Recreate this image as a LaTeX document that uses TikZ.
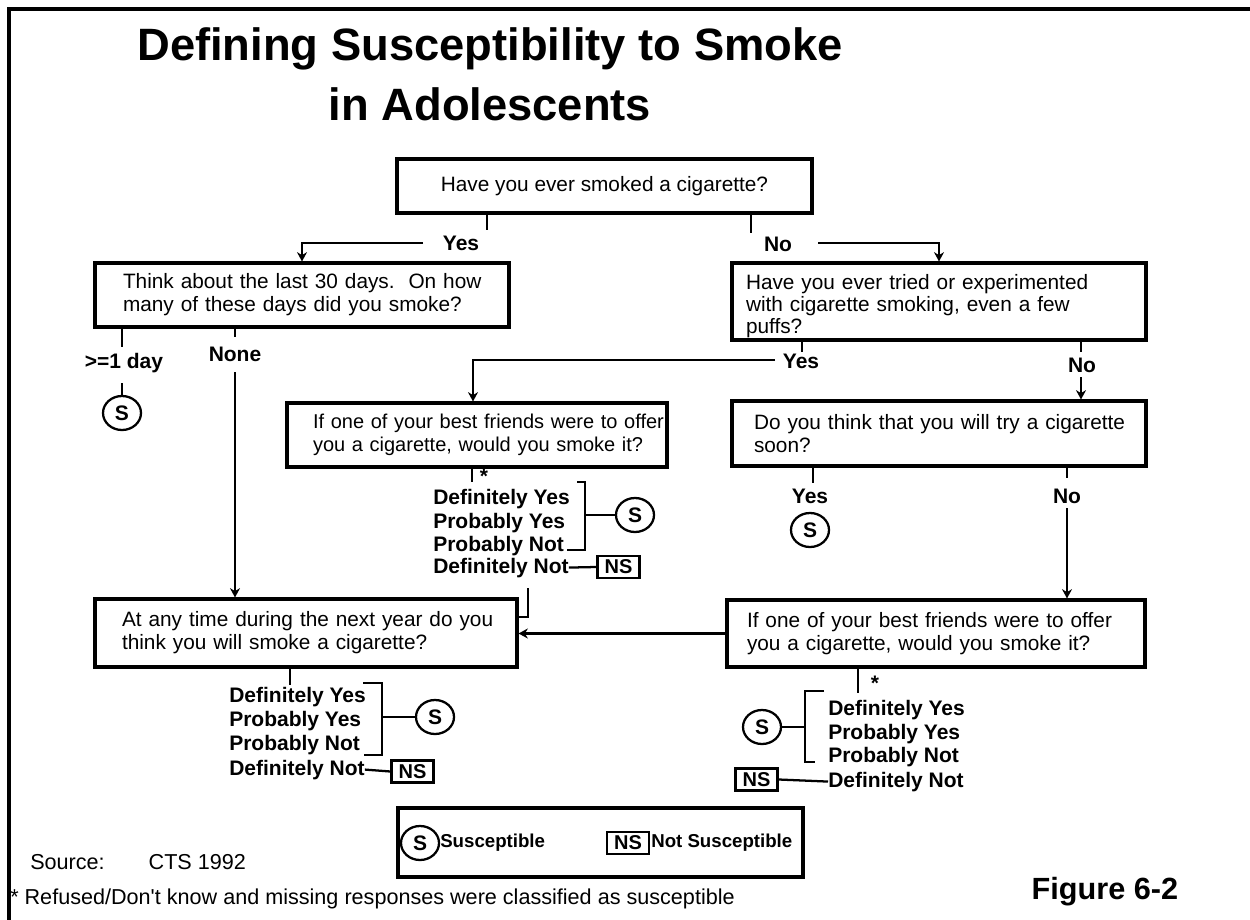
\documentclass[tikz,border=0pt]{standalone}
\usepackage{fontspec}
\setmainfont{Liberation Sans}[Ligatures=TeXOff]
\usetikzlibrary{arrows.meta,shapes.geometric}
\begin{document}
\begin{tikzpicture}[x=0.75pt,y=-0.75pt,
  qbox/.style={draw,line width=2.3pt,rectangle,inner ysep=0pt,align=left,
    font=\fontsize{15.6}{17.25}\selectfont},
  lab/.style={font=\fontsize{15.75}{18}\selectfont\bfseries,inner sep=0pt},
  opt/.style={lab,anchor=base west},
  sus/.style={draw,ellipse,line width=1.7pt,minimum width=28.5pt,minimum height=25.5pt,
    inner sep=0pt,font=\fontsize{15.75}{18}\selectfont\bfseries},
  nsbox/.style={draw,rectangle,line width=1.7pt,minimum width=31.5pt,minimum height=16.5pt,
    inner sep=0pt,font=\fontsize{15}{17}\selectfont\bfseries},
  leglab/.style={font=\fontsize{14}{16}\selectfont\bfseries,inner sep=0pt,anchor=west},
  con/.style={line width=1.7pt},
  arr/.style={con,-{Stealth[length=7pt,width=7.5pt]}},
  plain/.style={font=\fontsize{16.2}{18}\selectfont,inner sep=0pt},
]
\useasboundingbox (0,0) rectangle (1250,920);
% frame
\draw[line width=3pt] (9,920) -- (9,9) -- (1250,9);

% title
\node[font=\fontsize{34}{40}\selectfont\bfseries,anchor=base] (t1) at (490,61) {Defining Susceptibility to Smoke};
\node[font=\fontsize{34}{40}\selectfont\bfseries,anchor=base] (t2) at (490,121) {in Adolescents};

% question boxes
\node[qbox,align=center,minimum width=311.25pt,minimum height=40.5pt] (b1) at (604.5,186)
  {Have you ever smoked a cigarette?};
\node[qbox,text width=268.5pt,inner xsep=21pt,minimum height=48pt] (b2) at (302,295)
  {\mbox{Think about the last 30 days.\ \ On how}\\\mbox{many of these days did you smoke?}};
\node[qbox,text width=289.5pt,inner xsep=10.5pt,minimum height=57.75pt,
  font=\fontsize{15.6}{16.5}\selectfont] (b3) at (939,301.5)
  {\mbox{\rule{0pt}{17.5pt}Have you ever tried or experimented}\\\mbox{with cigarette smoking, even a few}\\puffs?};
\node[qbox,text width=246pt,inner xsep=19.5pt,minimum height=48pt,
  font=\fontsize{15}{17.25}\selectfont] (b5) at (477,435)
  {\mbox{If one of your best friends were to offer}\\\mbox{you a cigarette, would you smoke it?}};
\node[qbox,text width=277.5pt,inner xsep=16.5pt,minimum height=48.75pt] (b6) at (939,433.5)
  {\mbox{Do you think that you will try a cigarette}\\soon?};
\node[qbox,text width=276pt,inner xsep=20.25pt,minimum height=51pt] (b4) at (306,633)
  {\mbox{At any time during the next year do you}\\\mbox{think you will smoke a cigarette?}};
\node[qbox,text width=283.5pt,inner xsep=15pt,minimum height=50.25pt] (b7) at (936,633.5)
  {\mbox{If one of your best friends were to offer}\\\mbox{you a cigarette, would you smoke it?}};

% first question: Yes / No
\node[lab,anchor=base] (lyes) at (461,251) {Yes};
\node[lab,anchor=base] (lno) at (778,252) {No};
\coordinate (s1) at (487,230);
\coordinate (s2) at (751,233);
\draw[con] (b1.south -| s1) -- (s1);
\draw[con] (b1.south -| s2) -- (s2);
\coordinate (y1) at (423,243);
\coordinate (n1) at (818,243);
\draw[arr] (y1) -| (b2.north);
\draw[arr] (n1) -| (b3.north);

% last 30 days
\node[lab,anchor=base] (lday) at (124,368) {>=1 day};
\node[lab,anchor=base] (lnone) at (235,361) {None};
\node[sus] (sA) at (122,413) {S};
\draw[con] (b2.south -| 122,0) -- (122,347);
\draw[con] (122,383) -- (sA.north);
\draw[con] (b2.south -| 235,0) -- (235,337);
\draw[arr] (235,372) -- (b4.north -| 235,0);

% tried / experimented
\node[lab,anchor=base] (lyes3) at (801,368) {Yes};
\node[lab,anchor=base] (lno3) at (1082,372) {No};
\draw[con] (b3.south -| 802,0) -- (802,352);
\draw[con] (b3.south -| 1081,0) -- (1081,352);
\draw[arr] (775,360) -| (b5.north -| 473,0);
\draw[arr] (1081,377) -- (b6.north -| 1081,0);

% try soon
\node[lab,anchor=base] (lyes6) at (810,503) {Yes};
\node[lab,anchor=base] (lno6) at (1067,503) {No};
\node[sus] (sB) at (810,530) {S};
\draw[con] (b6.south -| 813,0) -- (813,483);
\draw[con] (b6.south -| 1067,0) -- (1067,478);
\draw[arr] (1067,508) -- (b7.north -| 1067,0);

% best friends (middle)
\draw[con] (b5.south -| 472,0) -- (472,482);
\node[lab] (st1) at (484,476) {*};
\node[opt] (o11) at (433,504) {Definitely Yes};
\node[opt] (o12) at (433,528) {Probably Yes};
\node[opt] (o13) at (433,551) {Probably Not};
\node[opt] (o14) at (433,573) {Definitely Not};
\draw[con] (577,482) -- (585,482) -- (585,550) -- (567,550);
\node[sus] (sC) at (635,515) {S};
\draw[con] (585,515) -- (sC.west);
\node[nsbox] (ns1) at (618.5,567) {NS};
\draw[con] (o14.east) -- (ns1.west);
\coordinate (m1) at (528,588);
\draw[con] (m1) |- (b4.east |- 0,617);

% best friends (right)
\draw[arr] (b7.west) -- (b4.east |- b7.west);
\draw[con] (b7.south -| 858,0) -- (858,693);
\node[lab] (st2) at (875,683) {*};
\node[opt] (o31) at (828,715) {Definitely Yes};
\node[opt] (o32) at (828,739) {Probably Yes};
\node[opt] (o33) at (828,762) {Probably Not};
\node[opt] (o34) at (828,787) {Definitely Not};
\draw[con] (824,691) -- (805,691) -- (805,762) -- (815,762);
\node[sus] (sE) at (762,727) {S};
\draw[con] (805,727) -- (sE.east);
\node[nsbox] (ns3) at (756.5,779.5) {NS};
\draw[con] (ns3.east) -- (o34.west);

% next year
\draw[con] (b4.south -| 290,0) -- (290,685);
\node[opt] (o21) at (229,702) {Definitely Yes};
\node[opt] (o22) at (229,726) {Probably Yes};
\node[opt] (o23) at (229,750) {Probably Not};
\node[opt] (o24) at (229,775) {Definitely Not};
\draw[con] (363,683) -- (382,683) -- (382,755) -- (364,755);
\node[sus] (sD) at (435,717) {S};
\draw[con] (382,717) -- (sD.west);
\node[nsbox] (ns2) at (412.5,771.5) {NS};
\draw[con] (o24.east) -- (ns2.west);

% legend
\node[draw,line width=2.3pt,minimum width=303.75pt,minimum height=51.75pt,inner sep=0pt] (leg) at (600.5,842.5) {};
\node[sus] (lS) at (420,843) {S};
\node[leglab] (lSt) at (440,843) {Susceptible};
\node[nsbox] (lNS) at (628,843) {NS};
\node[leglab] (lNSt) at (651,843) {Not Susceptible};

% footer
\node[plain,anchor=base west] (src) at (30,869) {Source:\hspace{33pt}CTS 1992};
\node[plain,anchor=base west] (fn) at (10,904) {* Refused/Don't know and missing responses were classified as susceptible};
\node[font=\fontsize{23}{25}\selectfont\bfseries,anchor=base] (fig) at (1105,899) {Figure 6-2};
\end{tikzpicture}
\end{document}
